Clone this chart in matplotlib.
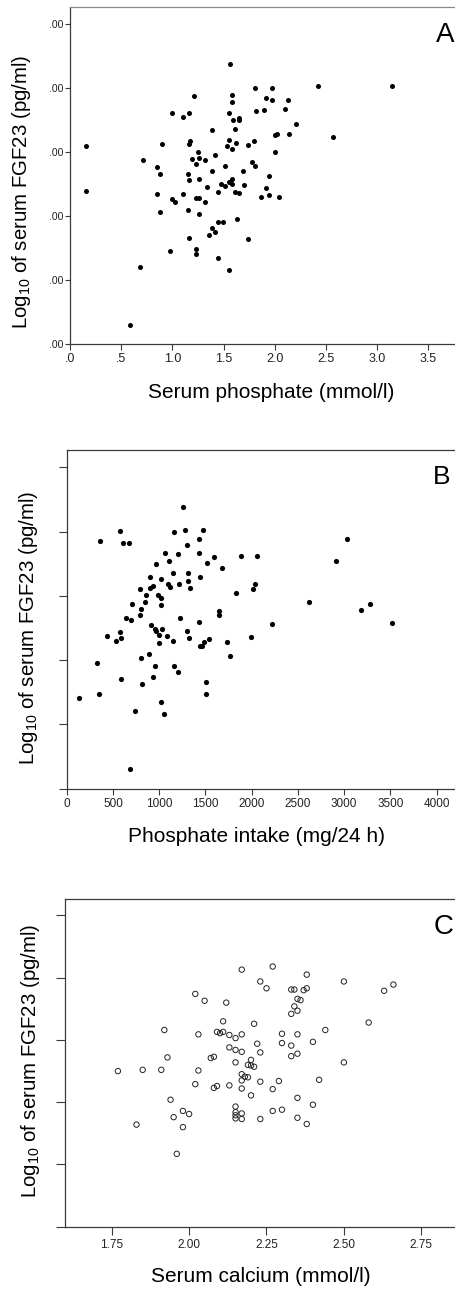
import numpy as np
import matplotlib
matplotlib.use("Agg")
import matplotlib.pyplot as plt

plt.rcParams['font.family'] = ['Liberation Sans', 'DejaVu Sans']
plt.rcParams['mathtext.fontset'] = 'custom'
plt.rcParams['mathtext.rm'] = 'Liberation Sans'
plt.rcParams['mathtext.default'] = 'regular'

# panel A: serum phosphate vs log10 FGF23
phos_a = [1.56, 3.14, 2.42, 1.81, 1.97, 1.21, 1.58, 1.91, 1.97, 2.13, 1.58, 1.00, 1.16,
          1.10, 1.55, 1.82, 1.89, 2.10, 1.59, 1.65, 1.65, 2.21, 1.39, 1.61, 2.00, 2.02,
          2.14, 2.57, 1.17, 1.16, 0.90, 1.55, 1.53, 1.58, 1.62, 1.74, 1.80, 0.16, 1.25,
          2.00, 0.71, 1.19, 1.26, 1.32, 1.42, 1.23, 0.85, 1.78, 1.81, 1.51, 1.39, 1.69,
          0.88, 1.15, 1.16, 1.26, 1.58, 1.55, 1.51, 1.47, 1.58, 1.70, 1.94, 1.34, 1.91,
          1.45, 1.61, 1.65, 0.16, 0.85, 1.10, 1.87, 1.94, 2.04, 1.00, 1.23, 1.26, 1.32,
          1.03, 0.88, 1.15, 1.26, 1.45, 1.49, 1.63, 1.39, 1.42, 1.36, 1.16, 1.74, 0.98,
          1.23, 1.23, 1.45, 1.55, 0.68, 0.59]
fgf_a = [4.38, 4.04, 4.03, 4.00, 4.01, 3.88, 3.89, 3.85, 3.82, 3.82, 3.78, 3.61, 3.61,
         3.55, 3.62, 3.64, 3.66, 3.67, 3.51, 3.53, 3.50, 3.44, 3.34, 3.36, 3.27, 3.29,
         3.29, 3.23, 3.18, 3.13, 3.13, 3.19, 3.10, 3.05, 3.15, 3.11, 3.18, 3.10, 3.00,
         3.00, 2.87, 2.90, 2.91, 2.88, 2.95, 2.81, 2.77, 2.85, 2.78, 2.79, 2.70, 2.70,
         2.66, 2.66, 2.56, 2.58, 2.58, 2.54, 2.47, 2.50, 2.50, 2.48, 2.63, 2.46, 2.44,
         2.37, 2.37, 2.36, 2.39, 2.35, 2.35, 2.30, 2.33, 2.30, 2.27, 2.29, 2.29, 2.22,
         2.22, 2.06, 2.10, 2.04, 1.91, 1.91, 1.96, 1.81, 1.75, 1.70, 1.66, 1.64, 1.46,
         1.48, 1.40, 1.35, 1.16, 1.20, 0.30]

# panel B: phosphate intake vs log10 FGF23
intake_b = [1257, 579, 1279, 1477, 1160, 363, 612, 674, 1434, 1297, 3027, 2908, 1059, 1200,
            1430, 1596, 1881, 2061, 1109, 962, 1520, 1676, 1149, 1315, 904, 1016, 1441, 789,
            904, 930, 1098, 1120, 1214, 1308, 1333, 2011, 2039, 1830, 854, 984, 1023, 706,
            843, 1023, 800, 796, 638, 692, 1228, 2616, 3185, 3282, 3517, 1650, 1650, 1430,
            2219, 911, 958, 965, 1034, 1297, 573, 436, 584, 530, 995, 1081, 1146, 1322,
            1542, 1481, 1444, 1463, 1733, 1996, 1001, 890, 800, 1769, 331, 958, 1163, 1200,
            930, 590, 1509, 811, 349, 1509, 130, 1023, 738, 1055, 684]
fgf_b = [4.38, 4.01, 4.03, 4.03, 3.99, 3.85, 3.82, 3.82, 3.88, 3.79, 3.89, 3.55, 3.67, 3.65,
         3.67, 3.61, 3.62, 3.62, 3.55, 3.50, 3.51, 3.44, 3.36, 3.35, 3.29, 3.27, 3.29, 3.11,
         3.12, 3.15, 3.18, 3.14, 3.19, 3.23, 3.13, 3.10, 3.18, 3.05, 3.01, 3.01, 2.96, 2.88,
         2.90, 2.86, 2.80, 2.71, 2.65, 2.63, 2.65, 2.91, 2.78, 2.87, 2.58, 2.76, 2.71, 2.59,
         2.57, 2.54, 2.49, 2.46, 2.49, 2.46, 2.44, 2.37, 2.35, 2.30, 2.39, 2.37, 2.30, 2.34,
         2.33, 2.29, 2.22, 2.22, 2.29, 2.36, 2.27, 2.10, 2.04, 2.06, 1.96, 1.91, 1.91, 1.82,
         1.74, 1.70, 1.66, 1.63, 1.48, 1.47, 1.41, 1.35, 1.21, 1.16, 0.31]

# panel C: serum calcium vs log10 FGF23
calc_c = [2.17, 2.27, 2.38, 2.23, 2.25, 2.50, 2.33, 2.34, 2.37, 2.38, 2.63, 2.66, 2.02, 2.05,
          2.12, 2.35, 2.36, 2.34, 2.35, 2.33, 2.11, 2.21, 2.58, 1.92, 2.03, 2.09, 2.10, 2.11,
          2.13, 2.15, 2.17, 2.30, 2.35, 2.44, 2.22, 2.30, 2.33, 2.40, 2.13, 2.15, 2.17, 2.23,
          2.33, 2.35, 1.93, 2.07, 2.08, 2.20, 2.15, 2.20, 2.21, 2.19, 2.50, 1.77, 1.85, 1.91,
          2.03, 2.02, 2.08, 2.09, 2.13, 2.17, 2.18, 2.19, 2.17, 2.17, 2.20, 2.23, 2.27, 2.29,
          2.42, 1.94, 2.35, 2.40, 1.98, 2.00, 1.95, 2.15, 2.15, 2.15, 2.15, 2.17, 2.17, 2.23,
          2.27, 2.30, 2.35, 2.38, 1.83, 1.98, 1.96]
fgf_c = [4.13, 4.18, 4.05, 3.94, 3.83, 3.94, 3.81, 3.81, 3.80, 3.83, 3.79, 3.89, 3.74, 3.63,
         3.60, 3.66, 3.64, 3.54, 3.47, 3.42, 3.30, 3.26, 3.28, 3.16, 3.09, 3.13, 3.11, 3.13,
         3.08, 3.03, 3.09, 3.10, 3.09, 3.16, 2.94, 2.95, 2.91, 2.97, 2.88, 2.84, 2.81, 2.80,
         2.74, 2.78, 2.72, 2.71, 2.73, 2.68, 2.64, 2.59, 2.57, 2.60, 2.64, 2.50, 2.52, 2.52,
         2.51, 2.29, 2.23, 2.26, 2.27, 2.45, 2.41, 2.40, 2.35, 2.22, 2.11, 2.33, 2.21, 2.34,
         2.36, 2.04, 2.07, 1.96, 1.86, 1.81, 1.76, 1.93, 1.84, 1.79, 1.74, 1.82, 1.73, 1.73,
         1.86, 1.88, 1.75, 1.65, 1.64, 1.60, 1.17]

ylab = r'Log$_{10}$ of serum FGF23 (pg/ml)'
spine_col = '#3a3a3a'

fig = plt.figure(figsize=(4.55, 12.89), dpi=100)

def style(ax, top_col=spine_col):
    ax.spines['right'].set_visible(False)
    for s in ['left', 'bottom']:
        ax.spines[s].set_color(spine_col)
        ax.spines[s].set_linewidth(0.9)
    ax.spines['top'].set_color(top_col)
    ax.spines['top'].set_linewidth(0.9)
    ax.tick_params(direction='out', length=4.5, width=0.8, color=spine_col,
                   top=False, right=False)

# A
axA = fig.add_axes([70/455, 1-344/1289, 1-70/455, 337/1289])
axA.scatter(phos_a, fgf_a, s=13, c='black', linewidths=0)
axA.set_xlim(0, 3.76)
axA.set_ylim(0, 5.27)
axA.set_xticks([0, 0.5, 1.0, 1.5, 2.0, 2.5, 3.0, 3.5])
axA.set_xticklabels(['.0', '.5', '1.0', '1.5', '2.0', '2.5', '3.0', '3.5'])
axA.set_yticks([0, 1, 2, 3, 4, 5])
axA.set_yticklabels(['.00'] * 6)
style(axA, top_col='#8a8a8a')
axA.tick_params(axis='x', labelsize=9, pad=2, labelcolor='#222222')
axA.tick_params(axis='y', labelsize=7.5, pad=1.5, length=3.5, labelcolor='#222222')

# B
axB = fig.add_axes([66.7/455, 1-788.7/1289, 1-66.7/455, 338.7/1289])
axB.scatter(intake_b, fgf_b, s=14, c='black', linewidths=0)
axB.set_xlim(0, 4198)
axB.set_ylim(0, 5.27)
axB.set_xticks([0, 500, 1000, 1500, 2000, 2500, 3000, 3500, 4000])
axB.set_yticks([0, 1, 2, 3, 4, 5])
axB.set_yticklabels([])
style(axB)
axB.tick_params(axis='x', labelsize=8.5, pad=2, labelcolor='#222222')
axB.tick_params(axis='y', length=6)

# C
axC = fig.add_axes([65.3/455, 1-1226.7/1289, 1-65.3/455, 327.4/1289])
axC.scatter(calc_c, fgf_c, s=15, facecolors='none', edgecolors='#222222', linewidths=0.7)
axC.set_xlim(1.6, 2.859)
axC.set_ylim(0, 5.26)
axC.set_xticks([1.75, 2.00, 2.25, 2.50, 2.75])
axC.set_xticklabels(['1.75', '2.00', '2.25', '2.50', '2.75'])
axC.set_yticks([0, 1, 2, 3, 4, 5])
axC.set_yticklabels([])
style(axC)
axC.tick_params(axis='x', labelsize=8.5, pad=3, length=6, labelcolor='#222222')
axC.tick_params(axis='y', length=6.5)

# axis titles
fig.text(22/455, 1-192/1289, ylab, rotation=90, ha='center', va='center', fontsize=14.7)
fig.text(29/455, 1-628/1289, ylab, rotation=90, ha='center', va='center', fontsize=14.7)
fig.text(31/455, 1-1061/1289, ylab, rotation=90, ha='center', va='center', fontsize=14.7)
fig.text(271/455, 1-392/1289, 'Serum phosphate (mmol/l)', ha='center', va='center', fontsize=15)
fig.text(257/455, 1-836/1289, 'Phosphate intake (mg/24 h)', ha='center', va='center', fontsize=15)
fig.text(261/455, 1-1277/1289, 'Serum calcium (mmol/l)', ha='center', va='center', fontsize=15)

# panel letters
fig.text(454/455, 1-35/1289, 'A', ha='right', va='center', fontsize=20)
fig.text(450/455, 1-477/1289, 'B', ha='right', va='center', fontsize=19)
fig.text(454/455, 1-927/1289, 'C', ha='right', va='center', fontsize=20)

fig.savefig('out.png', dpi=100)
